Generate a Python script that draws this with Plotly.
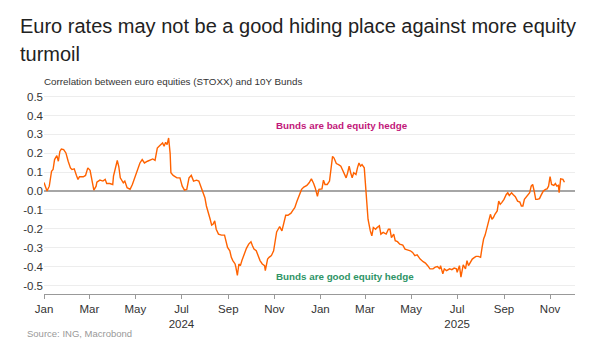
import plotly.graph_objects as go

# ---- data ----
dates = [
    "2024-01-01", "2024-01-05", "2024-01-08", "2024-01-11", "2024-01-13", "2024-01-15", "2024-01-18",
    "2024-01-20", "2024-01-22", "2024-01-24", "2024-01-27", "2024-01-30", "2024-02-02", "2024-02-05",
    "2024-02-07", "2024-02-10", "2024-02-13", "2024-02-15", "2024-02-17", "2024-02-22", "2024-02-25",
    "2024-02-28", "2024-03-02", "2024-03-04", "2024-03-07", "2024-03-10", "2024-03-11", "2024-03-15",
    "2024-03-19", "2024-03-22", "2024-03-24", "2024-03-28", "2024-04-01", "2024-04-02", "2024-04-05",
    "2024-04-07", "2024-04-09", "2024-04-11", "2024-04-15", "2024-04-17", "2024-04-20", "2024-04-24",
    "2024-04-27", "2024-04-30", "2024-05-03", "2024-05-07", "2024-05-10", "2024-05-13", "2024-05-17",
    "2024-05-20", "2024-05-24", "2024-05-27", "2024-05-30", "2024-06-02", "2024-06-06", "2024-06-08",
    "2024-06-10", "2024-06-12", "2024-06-14", "2024-06-16", "2024-06-17", "2024-06-20", "2024-06-25",
    "2024-06-29", "2024-07-02", "2024-07-05", "2024-07-08", "2024-07-11", "2024-07-14", "2024-07-17",
    "2024-07-21", "2024-07-24", "2024-07-27", "2024-07-30", "2024-08-01", "2024-08-03", "2024-08-05",
    "2024-08-08", "2024-08-10", "2024-08-12", "2024-08-14", "2024-08-16", "2024-08-19", "2024-08-23",
    "2024-08-27", "2024-08-29", "2024-08-31", "2024-09-03", "2024-09-05", "2024-09-07", "2024-09-10",
    "2024-09-11", "2024-09-13", "2024-09-15", "2024-09-17", "2024-09-19", "2024-09-22", "2024-09-25",
    "2024-09-28", "2024-10-01", "2024-10-03", "2024-10-05", "2024-10-08", "2024-10-10", "2024-10-13",
    "2024-10-16", "2024-10-19", "2024-10-20", "2024-10-23", "2024-10-25", "2024-10-28", "2024-10-31",
    "2024-11-02", "2024-11-04", "2024-11-06", "2024-11-08", "2024-11-11", "2024-11-13", "2024-11-16",
    "2024-11-19", "2024-11-23", "2024-11-25", "2024-11-28", "2024-12-01", "2024-12-04", "2024-12-07",
    "2024-12-10", "2024-12-14", "2024-12-17", "2024-12-20", "2024-12-23", "2024-12-25", "2024-12-28",
    "2024-12-30", "2025-01-03", "2025-01-05", "2025-01-07", "2025-01-10", "2025-01-13", "2025-01-15",
    "2025-01-17", "2025-01-19", "2025-01-22", "2025-01-25", "2025-01-28", "2025-01-30", "2025-02-02",
    "2025-02-04", "2025-02-06", "2025-02-08", "2025-02-10", "2025-02-12", "2025-02-14", "2025-02-17",
    "2025-02-19", "2025-02-21", "2025-02-23", "2025-02-25", "2025-02-28", "2025-03-02", "2025-03-04",
    "2025-03-05", "2025-03-08", "2025-03-10", "2025-03-12", "2025-03-15", "2025-03-17", "2025-03-20",
    "2025-03-22", "2025-03-25", "2025-03-29", "2025-04-01", "2025-04-03", "2025-04-05", "2025-04-08",
    "2025-04-10", "2025-04-13", "2025-04-16", "2025-04-20", "2025-04-23", "2025-04-26", "2025-04-30",
    "2025-05-03", "2025-05-06", "2025-05-09", "2025-05-13", "2025-05-17", "2025-05-20", "2025-05-23",
    "2025-05-26", "2025-05-30", "2025-06-02", "2025-06-05", "2025-06-08", "2025-06-09", "2025-06-12",
    "2025-06-14", "2025-06-17", "2025-06-21", "2025-06-24", "2025-06-27", "2025-06-30", "2025-07-01",
    "2025-07-04", "2025-07-06", "2025-07-08", "2025-07-09", "2025-07-12", "2025-07-14", "2025-07-16",
    "2025-07-19", "2025-07-21", "2025-07-24", "2025-07-26", "2025-07-29", "2025-08-01", "2025-08-03",
    "2025-08-05", "2025-08-07", "2025-08-09", "2025-08-12", "2025-08-14", "2025-08-16", "2025-08-18",
    "2025-08-20", "2025-08-23", "2025-08-25", "2025-08-27", "2025-08-29", "2025-09-01", "2025-09-04",
    "2025-09-06", "2025-09-08", "2025-09-11", "2025-09-13", "2025-09-16", "2025-09-19", "2025-09-22",
    "2025-09-24", "2025-09-26", "2025-09-28", "2025-09-30", "2025-10-03", "2025-10-05", "2025-10-07",
    "2025-10-09", "2025-10-11", "2025-10-13", "2025-10-15", "2025-10-18", "2025-10-20", "2025-10-23",
    "2025-10-26", "2025-10-28", "2025-10-30", "2025-11-01", "2025-11-03", "2025-11-06", "2025-11-08",
    "2025-11-10", "2025-11-12", "2025-11-13", "2025-11-15", "2025-11-18", "2025-11-20",
]
correlation = [
    0.045, 0.0, 0.026, 0.105, 0.114, 0.167, 0.188,
    0.158, 0.21, 0.223, 0.22, 0.202, 0.158, 0.123,
    0.114, 0.118, 0.083, 0.062, 0.076, 0.076, 0.083,
    0.123, 0.11, 0.07, 0.005, 0.026, 0.047, 0.058,
    0.053, 0.062, 0.04, 0.04, 0.035, 0.079, 0.14,
    0.162, 0.13, 0.07, 0.044, 0.053, 0.018, 0.009,
    0.035, 0.07, 0.114, 0.149, 0.167, 0.149, 0.158,
    0.163, 0.17, 0.163, 0.228, 0.24, 0.255, 0.237,
    0.258, 0.246, 0.281, 0.2, 0.097, 0.083, 0.07,
    0.07, 0.026, 0.005, 0.009, 0.07, 0.083, 0.053,
    0.058, 0.053, 0.023, -0.005, -0.035, -0.079, -0.114,
    -0.149, -0.18, -0.175, -0.158, -0.202, -0.228, -0.233,
    -0.233, -0.263, -0.298, -0.316, -0.351, -0.368, -0.386,
    -0.403, -0.447, -0.386, -0.395, -0.368, -0.333, -0.303,
    -0.281, -0.268, -0.289, -0.307, -0.316, -0.342, -0.368,
    -0.386, -0.395, -0.421, -0.36, -0.351, -0.342, -0.316,
    -0.263, -0.216, -0.202, -0.188, -0.211, -0.175, -0.128,
    -0.128, -0.117, -0.105, -0.088, -0.053, -0.018, 0.009,
    0.021, 0.03, 0.044, 0.065, 0.04, 0.018, -0.028,
    0.009, 0.012, 0.058, 0.035, 0.035, 0.053, 0.123,
    0.184, 0.175, 0.146, 0.14, 0.132, 0.114, 0.088,
    0.07, 0.097, 0.132, 0.097, 0.07, 0.097, 0.088,
    0.123, 0.149, 0.132, 0.14, 0.123, 0.026, -0.061,
    -0.149, -0.211, -0.237, -0.193, -0.202, -0.193, -0.184,
    -0.228, -0.219, -0.228, -0.202, -0.202, -0.246, -0.228,
    -0.263, -0.268, -0.281, -0.286, -0.307, -0.311, -0.316,
    -0.325, -0.342, -0.338, -0.36, -0.374, -0.381, -0.395,
    -0.412, -0.412, -0.403, -0.4, -0.412, -0.395, -0.438,
    -0.412, -0.421, -0.412, -0.416, -0.408, -0.412, -0.43,
    -0.395, -0.456, -0.403, -0.391, -0.412, -0.368, -0.395,
    -0.377, -0.36, -0.351, -0.346, -0.346, -0.351, -0.298,
    -0.254, -0.233, -0.202, -0.158, -0.123, -0.149, -0.14,
    -0.123, -0.105, -0.053, -0.07, -0.061, -0.044, -0.018,
    -0.009, -0.023, -0.009, -0.018, -0.03, -0.053, -0.058,
    -0.079, -0.079, -0.044, -0.035, -0.018, -0.009, 0.026,
    0.035, 0.0, -0.044, -0.044, -0.04, -0.023, 0.0,
    0.009, 0.012, 0.026, 0.076, 0.035, 0.03, 0.04,
    0.026, 0.03, -0.009, 0.065, 0.062, 0.047,
]

x_tick_dates = ["2024-01-01", "2024-03-01", "2024-05-01", "2024-07-01", "2024-09-01", "2024-11-01",
                "2025-01-01", "2025-03-01", "2025-05-01", "2025-07-01", "2025-09-01", "2025-11-01"]
x_tick_labels = ["Jan", "Mar", "May", "Jul<br>2024", "Sep", "Nov",
                 "Jan", "Mar", "May", "Jul<br>2025", "Sep", "Nov"]
y_tick_values = [0.5, 0.4, 0.3, 0.2, 0.1, 0.0, -0.1, -0.2, -0.3, -0.4, -0.5]
y_tick_labels = ["0.5", "0.4", "0.3", "0.2", "0.1", "0.0", "-0.1", "-0.2", "-0.3", "-0.4", "-0.5"]

title_line1 = "Euro rates may not be a good hiding place against more equity"
title_line2 = "turmoil"
subtitle_text = "Correlation between euro equities (STOXX) and 10Y Bunds"
source_text = "Source: ING, Macrobond"
label_bad = "Bunds are bad equity hedge"
label_good = "Bunds are good equity hedge"

ING_FONT = "Liberation Sans, Arial, sans-serif"

# plot-area geometry (pixels) used to place the free text
PL, PT, PW, PH = 44, 91, 531, 203


def px_x(x):
    return (x - PL) / PW


def px_y(y):
    return 1 + (PT - y) / PH


fig = go.Figure()
fig.add_trace(go.Scatter(
    x=dates, y=correlation, mode="lines",
    line=dict(color="#FF6200", width=1.4),
    hoverinfo="skip", showlegend=False,
))

fig.update_layout(
    width=599, height=350,
    margin=dict(l=PL, r=599 - PL - PW, t=PT, b=350 - PT - PH),
    paper_bgcolor="white", plot_bgcolor="white",
    font=dict(family=ING_FONT, color="#333333", size=11),
    showlegend=False,
    xaxis=dict(
        type="date",
        range=["2024-01-01", "2025-12-04"],
        tickmode="array", tickvals=x_tick_dates, ticktext=x_tick_labels,
        ticks="outside", ticklen=4, tickcolor="#999999", tickwidth=1,
        showline=True, linecolor="#999999", linewidth=1,
        showgrid=False, zeroline=False,
        tickfont=dict(family=ING_FONT, size=11.5, color="#333333"),
    ),
    yaxis=dict(
        range=[-0.545, 0.53],
        tickmode="array", tickvals=y_tick_values, ticktext=y_tick_labels,
        showgrid=True, gridcolor="#EDEDED", gridwidth=1,
        zeroline=True, zerolinecolor="#A6A6A6", zerolinewidth=1.5,
        showline=False, ticks="",
        tickfont=dict(family=ING_FONT, size=11.5, color="#333333"),
    ),
)

annotations = [
    dict(text=title_line1, xref="paper", yref="paper", x=px_x(18), y=px_y(26),
         xanchor="left", yanchor="middle", align="left", showarrow=False,
         font=dict(family="Liberation Sans, Arial, sans-serif", size=20, color="#222222")),
    dict(text=title_line2, xref="paper", yref="paper", x=px_x(18), y=px_y(54),
         xanchor="left", yanchor="middle", align="left", showarrow=False,
         font=dict(family="Liberation Sans, Arial, sans-serif", size=20, color="#222222")),
    dict(text=subtitle_text, xref="paper", yref="paper", x=px_x(42), y=px_y(82),
         xanchor="left", yanchor="middle", align="left", showarrow=False,
         font=dict(family=ING_FONT, size=9.8, color="#333333")),
    dict(text=source_text, xref="paper", yref="paper", x=px_x(25), y=px_y(333),
         xanchor="left", yanchor="middle", align="left", showarrow=False,
         font=dict(family=ING_FONT, size=9.5, color="#999999")),
    dict(text="<b>" + label_bad + "</b>", xref="x", yref="y", x="2025-01-29", y=0.348,
         xanchor="center", yanchor="middle", showarrow=False,
         font=dict(family=ING_FONT, size=9.8, color="#C2177A")),
    dict(text="<b>" + label_good + "</b>", xref="x", yref="y", x="2025-02-03", y=-0.451,
         xanchor="center", yanchor="middle", showarrow=False,
         font=dict(family=ING_FONT, size=9.8, color="#2E9466")),
]
fig.update_layout(annotations=annotations)

fig.write_html("out.html")
